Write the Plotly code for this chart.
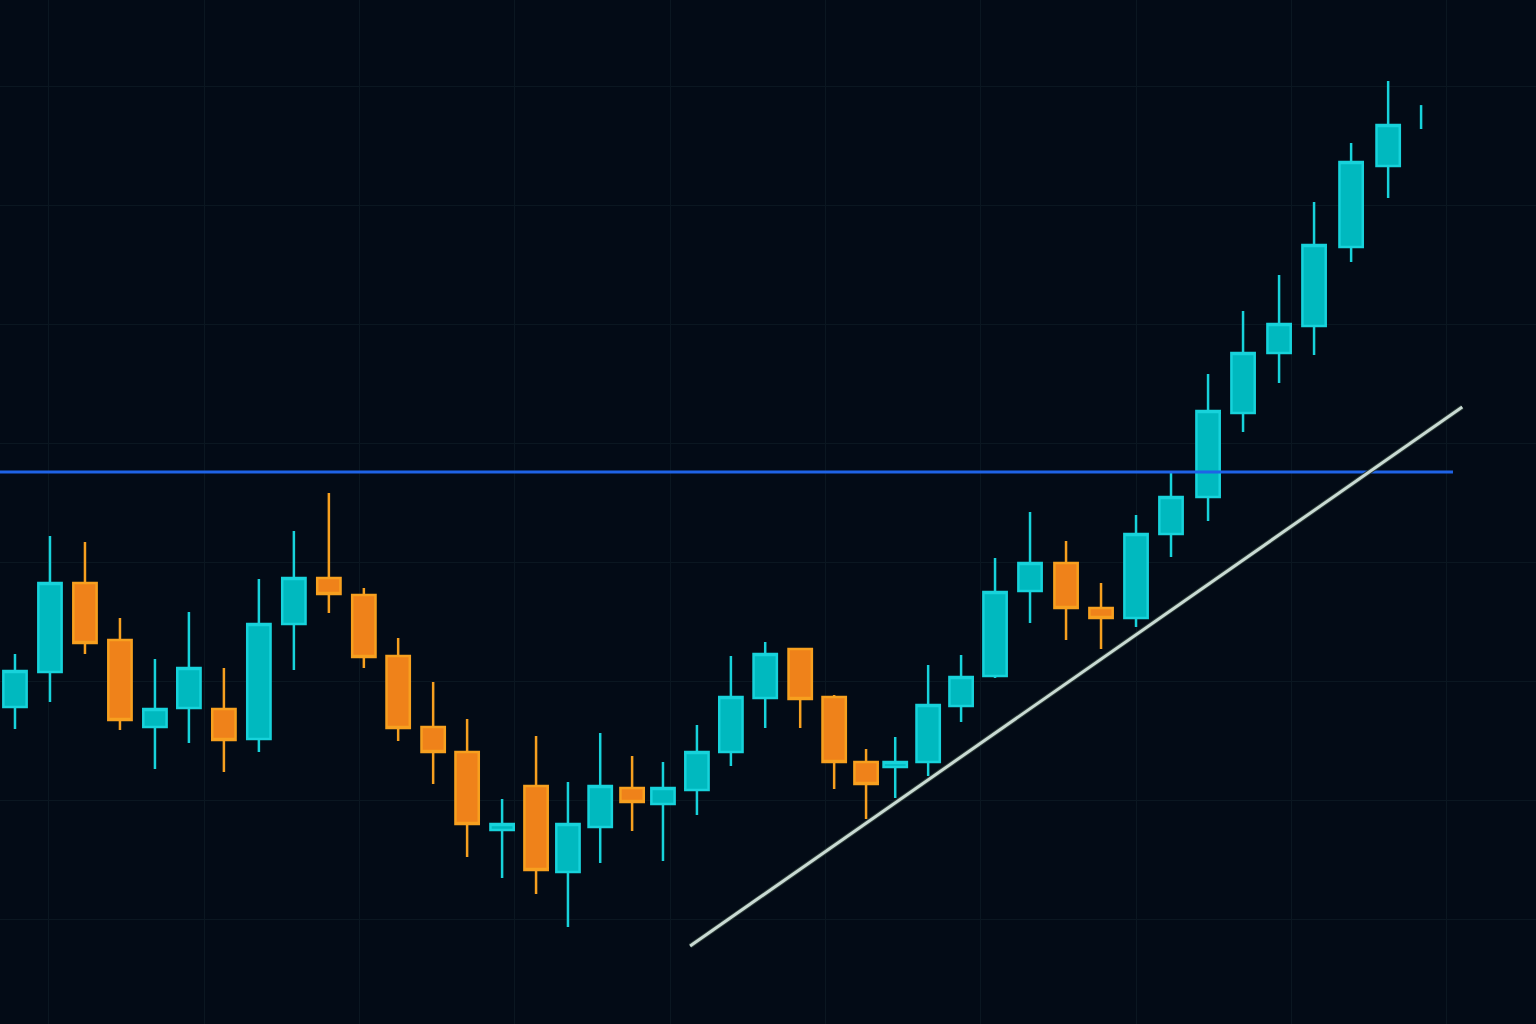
import plotly.graph_objects as go

# session position (fractional bar index)
pos = [0.00, 1.02, 2.04, 3.06, 4.08, 5.07, 6.09, 7.11, 8.13, 9.15, 10.17,
       11.17, 12.19, 13.18, 14.20, 15.19, 16.12, 17.06, 17.99, 18.89, 19.88,
       20.87, 21.87, 22.89, 23.88, 24.81, 25.66, 26.62, 27.58, 28.57, 29.59,
       30.64, 31.66, 32.68, 33.70, 34.78, 35.80, 36.85, 37.87, 38.95, 40.03]
opens = [117.82, 120.76, 128.24, 123.45, 116.13, 117.73, 117.65, 115.13, 124.79, 128.66, 127.23,
         122.10, 116.13, 114.03, 107.48, 111.18, 103.95, 107.73, 111.01, 109.66, 110.84,
         114.03, 118.57, 122.69, 118.66, 113.19, 112.77, 113.19, 117.90, 120.42, 127.56,
         129.92, 126.13, 125.29, 132.35, 135.46, 142.52, 147.56, 149.83, 156.47, 163.28]
closes = [120.84, 128.24, 123.19, 116.72, 117.65, 121.09, 115.04, 124.79, 128.66, 127.31, 122.02,
          116.05, 114.03, 107.98, 107.98, 104.12, 107.98, 111.18, 109.83, 111.01, 114.03,
          118.66, 122.27, 118.49, 113.19, 111.34, 113.19, 117.98, 120.34, 127.48, 129.92,
          126.13, 125.29, 132.35, 135.46, 142.69, 147.56, 150.00, 156.64, 163.61, 166.72]
highs = [122.27, 132.18, 131.68, 125.29, 121.85, 125.80, 121.09, 128.57, 132.61, 135.80, 127.82,
         123.61, 119.92, 116.81, 110.08, 115.38, 111.51, 115.63, 113.70, 113.19, 116.30,
         122.10, 123.28, 122.69, 118.82, 114.29, 115.29, 121.34, 122.18, 130.34, 134.20,
         131.76, 128.24, 133.95, 137.48, 145.80, 151.09, 154.12, 160.25, 165.21, 170.42]
lows = [115.97, 118.24, 122.27, 115.88, 112.61, 114.79, 112.35, 114.03, 120.92, 125.71, 121.09,
        114.96, 111.34, 105.21, 103.45, 102.10, 99.33, 104.71, 107.39, 104.87, 108.74,
        112.86, 116.05, 116.05, 110.92, 108.40, 110.17, 112.02, 116.55, 120.25, 124.87,
        123.45, 122.69, 124.54, 130.42, 133.45, 140.92, 145.04, 147.39, 155.21, 160.59]

# last (forming) bar: only its range is visible
last_pos = 40.99
last_high = 168.40
last_low = 166.39

# horizontal resistance level
level_price = 137.56
level_x = [-0.45, 41.92]

# rising trendline endpoints
trend_x = [19.68, 42.19]
trend_y = [97.73, 143.03]

UP_FILL, UP_LINE = "#00b9bf", "#17d3db"
DN_FILL, DN_LINE = "#ef821a", "#f7a01f"

fig = go.Figure()

fig.add_trace(go.Scatter(x=level_x, y=[level_price, level_price], mode="lines",
                         line=dict(color="#1f63e6", width=3), hoverinfo="skip",
                         showlegend=False))

fig.add_trace(go.Candlestick(
    x=pos, open=opens, high=highs, low=lows, close=closes,
    increasing=dict(fillcolor=UP_FILL, line=dict(color=UP_LINE, width=2.5)),
    decreasing=dict(fillcolor=DN_FILL, line=dict(color=DN_LINE, width=2.5)),
    whiskerwidth=0, showlegend=False))

fig.add_trace(go.Scatter(x=[last_pos, last_pos], y=[last_low, last_high], mode="lines",
                         line=dict(color=UP_LINE, width=2.5), hoverinfo="skip",
                         showlegend=False))

fig.add_trace(go.Scatter(x=trend_x, y=trend_y, mode="lines",
                         line=dict(color="#2a3a36", width=5), hoverinfo="skip",
                         showlegend=False))
fig.add_trace(go.Scatter(x=trend_x, y=trend_y, mode="lines",
                         line=dict(color="#c9dad3", width=3), hoverinfo="skip",
                         showlegend=False))

fig.update_layout(
    width=1536, height=1024,
    margin=dict(l=0, r=0, t=0, b=0),
    paper_bgcolor="#030b16", plot_bgcolor="#030b16",
    boxgap=0.2, boxgroupgap=0,
    xaxis=dict(range=[-0.437, 44.34], rangeslider=dict(visible=False),
               showticklabels=False, zeroline=False, showline=False,
               showgrid=True, gridcolor="#0b1721", gridwidth=1,
               tick0=0.991, dtick=4.528, tickmode="linear"),
    yaxis=dict(range=[91.18, 177.23], showticklabels=False, zeroline=False,
               showline=False, showgrid=True, gridcolor="#0b1721", gridwidth=1,
               tick0=100, dtick=10, tickmode="linear"),
)

fig.write_html(
    "out.html",
    config={"displayModeBar": False},
    post_script="document.body.style.margin='0';document.body.style.overflow='hidden';"
                "document.body.style.background='#030b16';",
)
